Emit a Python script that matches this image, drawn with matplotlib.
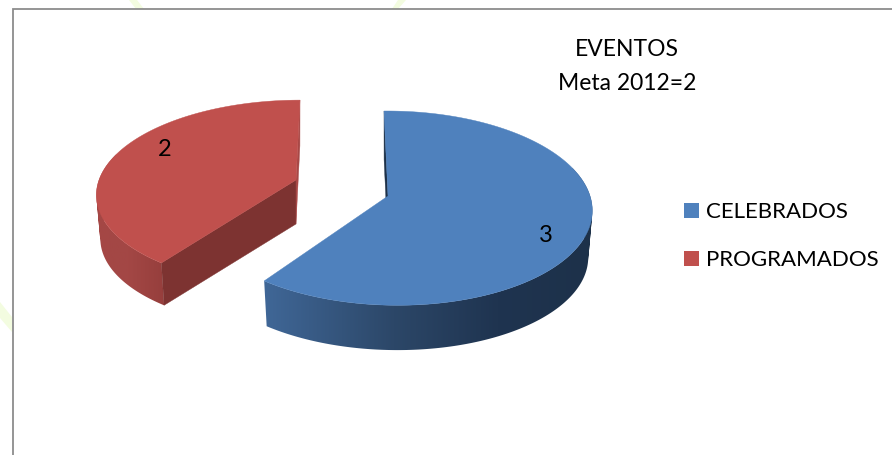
import numpy as np
import matplotlib
matplotlib.use("Agg")
import matplotlib.pyplot as plt
from matplotlib.patches import Polygon, Rectangle, PathPatch
from matplotlib.path import Path

plt.rcParams['font.family'] = ['Lato', 'DejaVu Sans']

categories = ["CELEBRADOS", "PROGRAMADOS"]
values = [3, 2]
title_lines = ["EVENTOS", "Meta 2012=2"]

top_colors = ["#4f81bd", "#c0504d"]
cut_colors = [None, "#7d3331"]
sliver_colors = ["#1d3149", "#a84846"]
wall_stops = [[0.0, 0.4, 0.7, 1.0], [0.0, 0.5, 1.0]]
wall_colors = [["#41699a", "#2c4768", "#1f3450", "#1d3149"], ["#a54745", "#a34745", "#943d3b"]]

# apex in pixels, radii, perspective (kv, ku), shear, height of the pie
geom = [dict(cx=388, cy=196, rx=198, ry=95.6, kv=0.125, ku=-0.02, shear=0.047, depth=47),
        dict(cx=296, cy=180, rx=197, ry=91, kv=0.139, ku=0.0, shear=-0.05, depth=44)]
label_pos = [(546, 236), (165, 149)]
LOWER = 0.98


def project(ang, g, r=1.0, lower=False):
    # ang = degrees clockwise from the top of the pie
    u = r * np.sin(np.radians(ang))
    v = r * np.cos(np.radians(ang))
    p = 1 / (1 + g['kv'] * v + g['ku'] * u)
    dx = g['rx'] * u * p
    dy = -g['ry'] * v * p
    x = dx + g['shear'] * dy
    y = dy
    if lower:
        x = x * LOWER
        y = y * LOWER + g['depth']
    return np.column_stack([g['cx'] + x, g['cy'] + y])


def one(ang, g, lower=False):
    return project(np.array([float(ang)]), g, lower=lower)[0]


def wall_path(a, b):
    # every step of the arc is one quad, all wound the same way, so the clip is their union
    verts, codes = [], []
    for j in range(len(a) - 1):
        q = np.array([a[j], a[j + 1], b[j + 1], b[j]])
        area = np.sum(q[:, 0] * np.roll(q[:, 1], -1) - np.roll(q[:, 0], -1) * q[:, 1])
        if area < 0:
            q = q[::-1]
        verts += list(q) + [q[0]]
        codes += [Path.MOVETO, Path.LINETO, Path.LINETO, Path.LINETO, Path.CLOSEPOLY]
    return Path(np.array(verts), codes)


fig = plt.figure(figsize=(8.92, 4.55), dpi=100)
ax = fig.add_axes([0, 0, 1, 1])

# watermark strokes behind the chart frame
for pts in [[(129, 0), (137, 0), (144, 9), (136, 9)],
            [(398, 0), (406, 0), (398, 9), (392, 9)],
            [(0, 302), (0, 318), (12, 332), (12, 317)]]:
    ax.add_patch(Polygon(pts, closed=True, fc="#f3fce0", ec="none"))

ax.add_patch(Rectangle((12.5, 9), 900, 460, fc="white", ec="#8c8c8c", lw=1.3))

total = sum(values)
edges = np.cumsum([0] + values) / total * 360
spans = [(edges[0], edges[1]), (edges[1], edges[2])]

for i in range(len(values)):
    g = geom[i]
    a0, a1 = spans[i]
    ang = np.linspace(a0, a1, 361)
    up = project(ang, g)
    apex_up = project(np.array([0.0]), g, r=0.0)[0]
    apex_lo = project(np.array([0.0]), g, r=0.0, lower=True)[0]

    # outer wall: only the front of the arc, a horizontal gradient clipped to its outline
    front = np.cos(np.radians(ang)) < 0.3
    wall_up = project(ang[front], g)
    wall_lo = project(ang[front], g, lower=True)
    wall = PathPatch(wall_path(wall_up, wall_lo), fc="none", ec="none")
    ax.add_patch(wall)
    x0, x1 = wall_up[:, 0].min(), wall_up[:, 0].max()
    t = np.linspace(0, 1, 256)
    rgb = np.array([matplotlib.colors.to_rgb(c) for c in wall_colors[i]])
    grad = np.stack([np.interp(t, wall_stops[i], rgb[:, k]) for k in range(3)], axis=-1)[None, :, :]
    im = ax.imshow(grad, extent=(x0 - 8, x1 + 8, 400, 50), aspect='auto', interpolation='bilinear', zorder=1 + i * 0.1)
    im.set_clip_path(wall)

    # cut faces: the one along the top edge is a thin sliver, the other one only shows on the red slice
    start_ang = a0 if i == 0 else a1
    other_ang = a1 if i == 0 else a0
    if cut_colors[i]:
        ax.add_patch(Polygon([one(other_ang, g), apex_up, apex_lo, one(other_ang, g, lower=True)],
                             closed=True, fc=cut_colors[i], ec=cut_colors[i], lw=0.3, zorder=2))
    ax.add_patch(Polygon([one(start_ang, g), apex_up, apex_lo, one(start_ang, g, lower=True)],
                         closed=True, fc=sliver_colors[i], ec=sliver_colors[i], lw=0.3, zorder=2))

    ax.add_patch(Polygon(np.vstack([apex_up, up]), closed=True, fc=top_colors[i], ec=top_colors[i], lw=0.3, zorder=3))
    ax.text(label_pos[i][0], label_pos[i][1], str(values[i]), fontsize=17, ha='center', va='center', color="black", zorder=4)

for k, line in enumerate(title_lines):
    ax.text(627, 50 + 33 * k, line, fontsize=16.5, ha='center', va='center', color="black")

for k, name in enumerate(categories):
    y = 210.5 + 48 * k
    ax.add_patch(Rectangle((684, y - 7.5), 15, 15, fc=top_colors[k], ec="none"))
    ax.text(706, y + 1.5, name, fontsize=16, ha='left', va='center', color="black")

ax.set_xlim(0, 892)
ax.set_ylim(455, 0)
ax.axis('off')

fig.savefig("out.png", dpi=100)
